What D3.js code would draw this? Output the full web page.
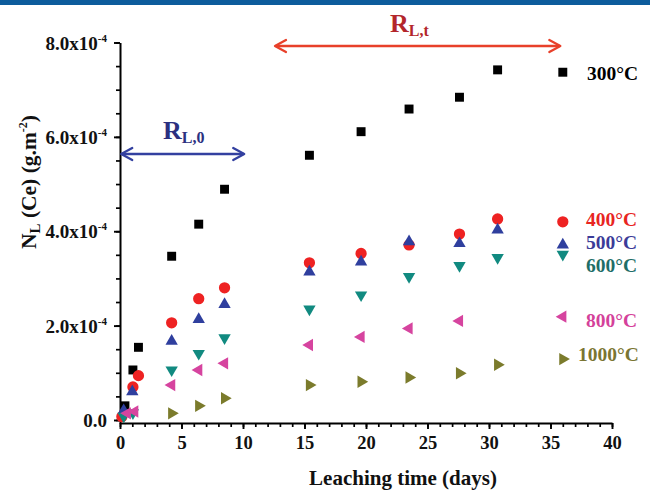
<!DOCTYPE html>
<html><head><meta charset="utf-8">
<script src="https://cdn.jsdelivr.net/npm/d3@7"></script>
<style>
html,body{margin:0;padding:0;background:#fff;}
svg{display:block;font-family:"Liberation Serif","Times New Roman",serif;font-weight:bold;}
</style></head>
<body>
<svg id="chart" width="650" height="491"></svg>
<script>
// leaching time (days) and N_L(Ce) values (x10^-4 g.m^-2), one pair per temperature
const t300  = [0.4, 1.05, 1.5, 4.2, 6.4, 8.5, 15.4, 19.6, 23.5, 27.6, 30.7, 36];
const v300  = [0.30, 1.06, 1.54, 3.47, 4.15, 4.89, 5.61, 6.11, 6.59, 6.84, 7.42, 7.37];
const t400  = [0.15, 1.05, 1.5, 4.2, 6.4, 8.5, 15.4, 19.6, 23.5, 27.6, 30.7, 36];
const v400  = [0.07, 0.70, 0.94, 2.06, 2.57, 2.80, 3.33, 3.53, 3.71, 3.94, 4.26, 4.20];
const t500  = [0.3, 1.0, 4.2, 6.4, 8.5, 15.4, 19.6, 23.5, 27.6, 30.7, 36];
const v500  = [0.20, 0.60, 1.67, 2.13, 2.45, 3.14, 3.35, 3.78, 3.74, 4.03, 3.71];
const t600  = [0.3, 1.05, 4.2, 6.4, 8.5, 15.4, 19.6, 23.5, 27.6, 30.7, 36];
const v600  = [0.08, 0.15, 1.06, 1.41, 1.74, 2.35, 2.65, 3.04, 3.27, 3.44, 3.51];
const t800  = [0.6, 1.2, 4.2, 6.4, 8.5, 15.4, 19.6, 23.5, 27.6, 36];
const v800  = [0.14, 0.18, 0.74, 1.06, 1.20, 1.59, 1.76, 1.94, 2.10, 2.19];
const t1000 = [4.2, 6.4, 8.5, 15.4, 19.6, 23.5, 27.6, 30.7, 36];
const v1000 = [0.14, 0.30, 0.46, 0.74, 0.81, 0.90, 0.99, 1.17, 1.29];

const seriesNames = ["300°C", "400°C", "500°C", "600°C", "800°C", "1000°C"];
const xTicks = [0, 5, 10, 15, 20, 25, 30, 35, 40];
const yTicks = [0, 2, 4, 6, 8];

const series = [
  {name: seriesNames[0], t: t300,  v: v300,  shape: "square",   color: "#000000", text: "#000000"},
  {name: seriesNames[1], t: t400,  v: v400,  shape: "circle",   color: "#ee2222", text: "#e8251f"},
  {name: seriesNames[2], t: t500,  v: v500,  shape: "up",       color: "#2f3f9e", text: "#3b3b98"},
  {name: seriesNames[3], t: t600,  v: v600,  shape: "down",     color: "#118a80", text: "#1e6e68"},
  {name: seriesNames[4], t: t800,  v: v800,  shape: "left",     color: "#d6449f", text: "#d4419a"},
  {name: seriesNames[5], t: t1000, v: v1000, shape: "right",    color: "#7b7b2c", text: "#7a7532"}
];
const labelY = [73, 219, 242, 265, 320, 354];
const labelX = [587, 586, 586, 586, 586, 578];

const svg = d3.select("#chart");

// top banner
svg.append("rect").attr("x", 0).attr("y", 0).attr("width", 650).attr("height", 5).attr("fill", "#0d5c9c");

const x = d3.scaleLinear().domain([0, 40]).range([120, 612]);
const y = d3.scaleLinear().domain([-0.064, 8]).range([423, 42.5]);

// minor ticks
svg.append("g").attr("transform", "translate(0,423)")
  .call(d3.axisBottom(x).tickValues(d3.range(0, 41, 1)).tickSize(4).tickFormat(""))
  .call(g => g.select(".domain").remove())
  .call(g => g.selectAll("line").attr("stroke-width", 1.7));
svg.append("g").attr("transform", "translate(120,0)")
  .call(d3.axisLeft(y).tickValues(d3.range(0, 8.01, 0.5)).tickSize(4).tickFormat(""))
  .call(g => g.select(".domain").remove())
  .call(g => g.selectAll("line").attr("stroke-width", 1.7));

// major x axis
const gx = svg.append("g").attr("transform", "translate(0,423)")
  .call(d3.axisBottom(x).tickValues(xTicks).tickSize(6).tickSizeOuter(0).tickPadding(7).tickFormat(d3.format("d")));
gx.select(".domain").attr("stroke-width", 2);
gx.selectAll("line").attr("stroke-width", 1.9);
gx.selectAll("text").attr("font-size", 18.5).attr("font-family", "Liberation Serif").attr("font-weight", "bold").attr("fill", "#111");

// major y axis
const gy = svg.append("g").attr("transform", "translate(120,0)")
  .call(d3.axisLeft(y).tickValues(yTicks).tickSize(6).tickSizeOuter(0).tickFormat(""));
gy.select(".domain").attr("stroke-width", 2);
gy.selectAll("line").attr("stroke-width", 1.9);
gy.selectAll(".tick").each(function(d) {
  const t = d3.select(this).append("text")
    .attr("x", -13).attr("dy", "0.35em").attr("text-anchor", "end")
    .attr("font-size", 19).attr("fill", "#111").attr("font-family", "Liberation Serif").attr("font-weight", "bold");
  if (d === 0) { t.text("0.0"); }
  else {
    t.append("tspan").text(d3.format(".1f")(d) + "x10");
    t.append("tspan").attr("font-size", 11).attr("dy", -8).text("-4");
  }
});

// axis titles
svg.append("text").attr("x", 403).attr("y", 485).attr("text-anchor", "middle")
  .attr("font-size", 21).attr("fill", "#111").text("Leaching time (days)");
const yt = svg.append("text").attr("transform", "translate(36,182) rotate(-90)")
  .attr("text-anchor", "middle").attr("font-size", 21.5).attr("fill", "#111");
yt.append("tspan").text("N");
yt.append("tspan").attr("font-size", 15).attr("dy", 4).text("L");
yt.append("tspan").attr("dy", -4).text(" (Ce) (g.m");
yt.append("tspan").attr("font-size", 12).attr("dy", -9).text("-2");
yt.append("tspan").attr("dy", 9).text(")");

// markers
function symbolFor(shape) {
  if (shape === "square") return d3.symbol().type(d3.symbolSquare).size(80)();
  if (shape === "circle") return d3.symbol().type(d3.symbolCircle).size(100)();
  return d3.symbol().type(d3.symbolTriangle).size(66)();
}
const rot = {square: 0, circle: 0, up: 0, down: 180, left: -90, right: 90};
series.forEach(s => {
  const pts = s.t.map((t, i) => ({t, v: s.v[i]}));
  svg.append("g").selectAll("path").data(pts).join("path")
    .attr("d", symbolFor(s.shape))
    .attr("transform", d => `translate(${x(d.t)},${y(d.v)}) rotate(${rot[s.shape]})`)
    .attr("fill", s.color);
});

// series labels
series.forEach((s, i) => {
  svg.append("text").attr("x", labelX[i]).attr("y", labelY[i]).attr("dy", "0.35em")
    .attr("font-size", 19.5).attr("fill", s.text).text(s.name);
});

// arrows
function dblArrow(x1, x2, yy, color) {
  const g = svg.append("g").attr("stroke", color).attr("fill", "none").attr("stroke-width", 2.3)
    .attr("stroke-linecap", "round").attr("stroke-linejoin", "round");
  g.append("line").attr("x1", x1 + 1).attr("x2", x2 - 1).attr("y1", yy).attr("y2", yy);
  g.append("path").attr("d", `M${x1 + 11},${yy - 6} L${x1},${yy} L${x1 + 11},${yy + 6}`);
  g.append("path").attr("d", `M${x2 - 11},${yy - 6} L${x2},${yy} L${x2 - 11},${yy + 6}`);
}
dblArrow(x(0.1), x(10.1), 154, "#3340a0");
dblArrow(x(12.6), x(35.8), 46, "#e8402a");

// region labels
const r0 = svg.append("text").attr("x", 163).attr("y", 139).attr("font-size", 26).attr("fill", "#2b3080");
r0.append("tspan").text("R");
r0.append("tspan").attr("font-size", 16).attr("dy", 4).text("L,0");
const rt = svg.append("text").attr("x", 390).attr("y", 32).attr("font-size", 26).attr("fill", "#b3262b");
rt.append("tspan").text("R");
rt.append("tspan").attr("font-size", 16).attr("dy", 4).text("L,t");
</script>
</body></html>
